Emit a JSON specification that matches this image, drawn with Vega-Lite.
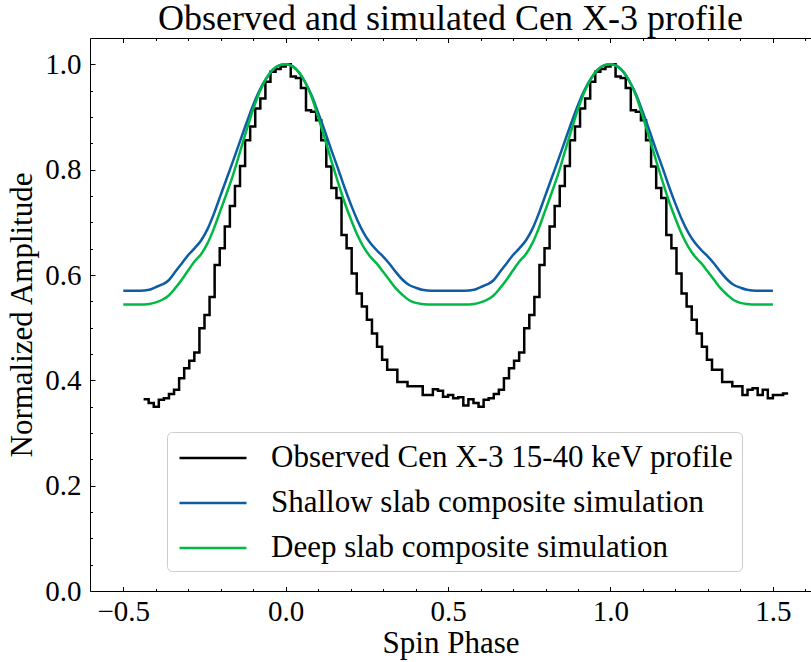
{
  "$schema": "https://vega.github.io/schema/vega-lite/v6.json",
  "width": 721,
  "height": 553,
  "autosize": {"type": "none"},
  "padding": {"left": 90, "top": 38, "right": 0, "bottom": 71},
  "background": "white",
  "title": {"text": "Observed and simulated Cen X-3 profile", "font": "Liberation Serif", "fontSize": 36, "fontWeight": "normal", "color": "black", "anchor": "middle", "frame": "group", "offset": 0},
  "config": {
    "view": {"stroke": "black", "strokeWidth": 1},
    "axis": {"grid": false, "domain": false, "tickColor": "black", "tickWidth": 1, "labelFont": "Liberation Serif", "labelFontSize": 29, "labelColor": "black", "titleFont": "Liberation Serif", "titleFontSize": 31, "titleFontWeight": "normal", "titleColor": "black", "labelOverlap": false}
  },
  "datasets": {
    "obs": [
      {"phase": -0.4375, "amp": 0.364}, {"phase": -0.421875, "amp": 0.357}, {"phase": -0.40625, "amp": 0.350}, {"phase": -0.390625, "amp": 0.363},
      {"phase": -0.375, "amp": 0.366}, {"phase": -0.359375, "amp": 0.374}, {"phase": -0.34375, "amp": 0.382}, {"phase": -0.328125, "amp": 0.404},
      {"phase": -0.3125, "amp": 0.423}, {"phase": -0.296875, "amp": 0.437}, {"phase": -0.28125, "amp": 0.453}, {"phase": -0.265625, "amp": 0.499},
      {"phase": -0.25, "amp": 0.524}, {"phase": -0.234375, "amp": 0.558}, {"phase": -0.21875, "amp": 0.619}, {"phase": -0.203125, "amp": 0.651},
      {"phase": -0.1875, "amp": 0.692}, {"phase": -0.171875, "amp": 0.731}, {"phase": -0.15625, "amp": 0.769}, {"phase": -0.140625, "amp": 0.807},
      {"phase": -0.125, "amp": 0.856}, {"phase": -0.109375, "amp": 0.882}, {"phase": -0.09375, "amp": 0.916}, {"phase": -0.078125, "amp": 0.935},
      {"phase": -0.0625, "amp": 0.967}, {"phase": -0.046875, "amp": 0.986}, {"phase": -0.03125, "amp": 0.991}, {"phase": -0.015625, "amp": 0.996},
      {"phase": 0.0, "amp": 1.0}, {"phase": 0.015625, "amp": 0.977}, {"phase": 0.03125, "amp": 0.974}, {"phase": 0.046875, "amp": 0.955},
      {"phase": 0.0625, "amp": 0.913}, {"phase": 0.078125, "amp": 0.910}, {"phase": 0.09375, "amp": 0.894}, {"phase": 0.109375, "amp": 0.856},
      {"phase": 0.125, "amp": 0.806}, {"phase": 0.140625, "amp": 0.765}, {"phase": 0.15625, "amp": 0.746}, {"phase": 0.171875, "amp": 0.676},
      {"phase": 0.1875, "amp": 0.651}, {"phase": 0.203125, "amp": 0.603}, {"phase": 0.21875, "amp": 0.565}, {"phase": 0.234375, "amp": 0.540},
      {"phase": 0.25, "amp": 0.515}, {"phase": 0.265625, "amp": 0.489}, {"phase": 0.28125, "amp": 0.464}, {"phase": 0.296875, "amp": 0.439},
      {"phase": 0.3125, "amp": 0.420}, {"phase": 0.328125, "amp": 0.420}, {"phase": 0.34375, "amp": 0.397}, {"phase": 0.359375, "amp": 0.397},
      {"phase": 0.375, "amp": 0.389}, {"phase": 0.390625, "amp": 0.389}, {"phase": 0.40625, "amp": 0.389}, {"phase": 0.421875, "amp": 0.372},
      {"phase": 0.4375, "amp": 0.372}, {"phase": 0.453125, "amp": 0.383}, {"phase": 0.46875, "amp": 0.380}, {"phase": 0.484375, "amp": 0.369},
      {"phase": 0.5, "amp": 0.372}, {"phase": 0.515625, "amp": 0.366}, {"phase": 0.53125, "amp": 0.368}, {"phase": 0.546875, "amp": 0.352},
      {"phase": 0.5625, "amp": 0.364}, {"phase": 0.578125, "amp": 0.357}, {"phase": 0.59375, "amp": 0.350}, {"phase": 0.609375, "amp": 0.363},
      {"phase": 0.625, "amp": 0.366}, {"phase": 0.640625, "amp": 0.374}, {"phase": 0.65625, "amp": 0.382}, {"phase": 0.671875, "amp": 0.404},
      {"phase": 0.6875, "amp": 0.423}, {"phase": 0.703125, "amp": 0.437}, {"phase": 0.71875, "amp": 0.453}, {"phase": 0.734375, "amp": 0.499},
      {"phase": 0.75, "amp": 0.524}, {"phase": 0.765625, "amp": 0.558}, {"phase": 0.78125, "amp": 0.619}, {"phase": 0.796875, "amp": 0.651},
      {"phase": 0.8125, "amp": 0.692}, {"phase": 0.828125, "amp": 0.731}, {"phase": 0.84375, "amp": 0.769}, {"phase": 0.859375, "amp": 0.807},
      {"phase": 0.875, "amp": 0.856}, {"phase": 0.890625, "amp": 0.882}, {"phase": 0.90625, "amp": 0.916}, {"phase": 0.921875, "amp": 0.935},
      {"phase": 0.9375, "amp": 0.967}, {"phase": 0.953125, "amp": 0.986}, {"phase": 0.96875, "amp": 0.991}, {"phase": 0.984375, "amp": 0.996},
      {"phase": 1.0, "amp": 1.0}, {"phase": 1.015625, "amp": 0.977}, {"phase": 1.03125, "amp": 0.974}, {"phase": 1.046875, "amp": 0.955},
      {"phase": 1.0625, "amp": 0.913}, {"phase": 1.078125, "amp": 0.910}, {"phase": 1.09375, "amp": 0.894}, {"phase": 1.109375, "amp": 0.856},
      {"phase": 1.125, "amp": 0.806}, {"phase": 1.140625, "amp": 0.765}, {"phase": 1.15625, "amp": 0.746}, {"phase": 1.171875, "amp": 0.676},
      {"phase": 1.1875, "amp": 0.651}, {"phase": 1.203125, "amp": 0.603}, {"phase": 1.21875, "amp": 0.565}, {"phase": 1.234375, "amp": 0.540},
      {"phase": 1.25, "amp": 0.515}, {"phase": 1.265625, "amp": 0.489}, {"phase": 1.28125, "amp": 0.464}, {"phase": 1.296875, "amp": 0.439},
      {"phase": 1.3125, "amp": 0.420}, {"phase": 1.328125, "amp": 0.420}, {"phase": 1.34375, "amp": 0.397}, {"phase": 1.359375, "amp": 0.397},
      {"phase": 1.375, "amp": 0.389}, {"phase": 1.390625, "amp": 0.389}, {"phase": 1.40625, "amp": 0.372}, {"phase": 1.421875, "amp": 0.382},
      {"phase": 1.4375, "amp": 0.385}, {"phase": 1.453125, "amp": 0.372}, {"phase": 1.46875, "amp": 0.382}, {"phase": 1.484375, "amp": 0.366},
      {"phase": 1.5, "amp": 0.372}, {"phase": 1.515625, "amp": 0.372}, {"phase": 1.53125, "amp": 0.375}, {"phase": 1.546875, "amp": 0.375}
    ],
    "shallow": [
      {"phase": -0.5, "amp": 0.570}, {"phase": -0.45, "amp": 0.570}, {"phase": -0.42, "amp": 0.572}, {"phase": -0.40, "amp": 0.577},
      {"phase": -0.38, "amp": 0.582}, {"phase": -0.36, "amp": 0.590}, {"phase": -0.34, "amp": 0.606}, {"phase": -0.32, "amp": 0.622},
      {"phase": -0.30, "amp": 0.638}, {"phase": -0.28, "amp": 0.651}, {"phase": -0.26, "amp": 0.666}, {"phase": -0.24, "amp": 0.688},
      {"phase": -0.22, "amp": 0.718}, {"phase": -0.20, "amp": 0.752}, {"phase": -0.18, "amp": 0.786}, {"phase": -0.16, "amp": 0.820},
      {"phase": -0.14, "amp": 0.855}, {"phase": -0.12, "amp": 0.890}, {"phase": -0.10, "amp": 0.923}, {"phase": -0.08, "amp": 0.951},
      {"phase": -0.06, "amp": 0.973}, {"phase": -0.04, "amp": 0.989}, {"phase": -0.02, "amp": 0.998}, {"phase": 0.0, "amp": 1.0},
      {"phase": 0.02, "amp": 0.997}, {"phase": 0.04, "amp": 0.985}, {"phase": 0.06, "amp": 0.966}, {"phase": 0.08, "amp": 0.941},
      {"phase": 0.10, "amp": 0.908}, {"phase": 0.12, "amp": 0.874}, {"phase": 0.14, "amp": 0.838}, {"phase": 0.16, "amp": 0.804},
      {"phase": 0.18, "amp": 0.768}, {"phase": 0.20, "amp": 0.735}, {"phase": 0.22, "amp": 0.705}, {"phase": 0.24, "amp": 0.680},
      {"phase": 0.26, "amp": 0.661}, {"phase": 0.28, "amp": 0.647}, {"phase": 0.30, "amp": 0.635}, {"phase": 0.32, "amp": 0.621},
      {"phase": 0.34, "amp": 0.605}, {"phase": 0.36, "amp": 0.591}, {"phase": 0.38, "amp": 0.581}, {"phase": 0.40, "amp": 0.576},
      {"phase": 0.42, "amp": 0.572}, {"phase": 0.45, "amp": 0.570}, {"phase": 0.50, "amp": 0.570},
      {"phase": 0.55, "amp": 0.570}, {"phase": 0.58, "amp": 0.572}, {"phase": 0.60, "amp": 0.577},
      {"phase": 0.62, "amp": 0.582}, {"phase": 0.64, "amp": 0.590}, {"phase": 0.66, "amp": 0.606}, {"phase": 0.68, "amp": 0.622},
      {"phase": 0.70, "amp": 0.638}, {"phase": 0.72, "amp": 0.651}, {"phase": 0.74, "amp": 0.666}, {"phase": 0.76, "amp": 0.688},
      {"phase": 0.78, "amp": 0.718}, {"phase": 0.80, "amp": 0.752}, {"phase": 0.82, "amp": 0.786}, {"phase": 0.84, "amp": 0.820},
      {"phase": 0.86, "amp": 0.855}, {"phase": 0.88, "amp": 0.890}, {"phase": 0.90, "amp": 0.923}, {"phase": 0.92, "amp": 0.951},
      {"phase": 0.94, "amp": 0.973}, {"phase": 0.96, "amp": 0.989}, {"phase": 0.98, "amp": 0.998}, {"phase": 1.0, "amp": 1.0},
      {"phase": 1.02, "amp": 0.997}, {"phase": 1.04, "amp": 0.985}, {"phase": 1.06, "amp": 0.966}, {"phase": 1.08, "amp": 0.941},
      {"phase": 1.10, "amp": 0.908}, {"phase": 1.12, "amp": 0.874}, {"phase": 1.14, "amp": 0.838}, {"phase": 1.16, "amp": 0.804},
      {"phase": 1.18, "amp": 0.768}, {"phase": 1.20, "amp": 0.735}, {"phase": 1.22, "amp": 0.705}, {"phase": 1.24, "amp": 0.680},
      {"phase": 1.26, "amp": 0.661}, {"phase": 1.28, "amp": 0.647}, {"phase": 1.30, "amp": 0.635}, {"phase": 1.32, "amp": 0.621},
      {"phase": 1.34, "amp": 0.605}, {"phase": 1.36, "amp": 0.591}, {"phase": 1.38, "amp": 0.581}, {"phase": 1.40, "amp": 0.576},
      {"phase": 1.42, "amp": 0.572}, {"phase": 1.45, "amp": 0.570}, {"phase": 1.50, "amp": 0.570}
    ],
    "deep": [
      {"phase": -0.5, "amp": 0.544}, {"phase": -0.45, "amp": 0.544}, {"phase": -0.42, "amp": 0.545}, {"phase": -0.40, "amp": 0.548},
      {"phase": -0.38, "amp": 0.553}, {"phase": -0.36, "amp": 0.561}, {"phase": -0.34, "amp": 0.575}, {"phase": -0.32, "amp": 0.591},
      {"phase": -0.30, "amp": 0.609}, {"phase": -0.28, "amp": 0.626}, {"phase": -0.26, "amp": 0.640}, {"phase": -0.24, "amp": 0.661},
      {"phase": -0.22, "amp": 0.690}, {"phase": -0.20, "amp": 0.724}, {"phase": -0.18, "amp": 0.758}, {"phase": -0.16, "amp": 0.794},
      {"phase": -0.14, "amp": 0.835}, {"phase": -0.12, "amp": 0.876}, {"phase": -0.10, "amp": 0.915}, {"phase": -0.08, "amp": 0.948},
      {"phase": -0.06, "amp": 0.973}, {"phase": -0.04, "amp": 0.990}, {"phase": -0.02, "amp": 0.998}, {"phase": 0.0, "amp": 1.0},
      {"phase": 0.02, "amp": 0.996}, {"phase": 0.04, "amp": 0.986}, {"phase": 0.06, "amp": 0.966}, {"phase": 0.08, "amp": 0.938},
      {"phase": 0.10, "amp": 0.900}, {"phase": 0.12, "amp": 0.860}, {"phase": 0.14, "amp": 0.818}, {"phase": 0.16, "amp": 0.778},
      {"phase": 0.18, "amp": 0.740}, {"phase": 0.20, "amp": 0.707}, {"phase": 0.22, "amp": 0.677}, {"phase": 0.24, "amp": 0.653},
      {"phase": 0.26, "amp": 0.635}, {"phase": 0.28, "amp": 0.622}, {"phase": 0.30, "amp": 0.606}, {"phase": 0.32, "amp": 0.590},
      {"phase": 0.34, "amp": 0.574}, {"phase": 0.36, "amp": 0.562}, {"phase": 0.38, "amp": 0.552}, {"phase": 0.40, "amp": 0.547},
      {"phase": 0.42, "amp": 0.545}, {"phase": 0.45, "amp": 0.544}, {"phase": 0.50, "amp": 0.544},
      {"phase": 0.55, "amp": 0.544}, {"phase": 0.58, "amp": 0.545}, {"phase": 0.60, "amp": 0.548},
      {"phase": 0.62, "amp": 0.553}, {"phase": 0.64, "amp": 0.561}, {"phase": 0.66, "amp": 0.575}, {"phase": 0.68, "amp": 0.591},
      {"phase": 0.70, "amp": 0.609}, {"phase": 0.72, "amp": 0.626}, {"phase": 0.74, "amp": 0.640}, {"phase": 0.76, "amp": 0.661},
      {"phase": 0.78, "amp": 0.690}, {"phase": 0.80, "amp": 0.724}, {"phase": 0.82, "amp": 0.758}, {"phase": 0.84, "amp": 0.794},
      {"phase": 0.86, "amp": 0.835}, {"phase": 0.88, "amp": 0.876}, {"phase": 0.90, "amp": 0.915}, {"phase": 0.92, "amp": 0.948},
      {"phase": 0.94, "amp": 0.973}, {"phase": 0.96, "amp": 0.990}, {"phase": 0.98, "amp": 0.998}, {"phase": 1.0, "amp": 1.0},
      {"phase": 1.02, "amp": 0.996}, {"phase": 1.04, "amp": 0.986}, {"phase": 1.06, "amp": 0.966}, {"phase": 1.08, "amp": 0.938},
      {"phase": 1.10, "amp": 0.900}, {"phase": 1.12, "amp": 0.860}, {"phase": 1.14, "amp": 0.818}, {"phase": 1.16, "amp": 0.778},
      {"phase": 1.18, "amp": 0.740}, {"phase": 1.20, "amp": 0.707}, {"phase": 1.22, "amp": 0.677}, {"phase": 1.24, "amp": 0.653},
      {"phase": 1.26, "amp": 0.635}, {"phase": 1.28, "amp": 0.622}, {"phase": 1.30, "amp": 0.606}, {"phase": 1.32, "amp": 0.590},
      {"phase": 1.34, "amp": 0.574}, {"phase": 1.36, "amp": 0.562}, {"phase": 1.38, "amp": 0.552}, {"phase": 1.40, "amp": 0.547},
      {"phase": 1.42, "amp": 0.545}, {"phase": 1.45, "amp": 0.544}, {"phase": 1.50, "amp": 0.544}
    ]
  },
  "layer": [
    {
      "data": {"name": "obs"},
      "mark": {"type": "line", "interpolate": "step-after", "strokeWidth": 2.5},
      "encoding": {
        "x": {"field": "phase", "type": "quantitative", "scale": {"domain": [-0.6025, 1.6173], "nice": false, "zero": false},
              "axis": {"orient": "bottom", "values": [-0.5, 0, 0.5, 1, 1.5], "format": ".1f", "tickSize": -4.5, "labelPadding": 11, "title": "Spin Phase", "titlePadding": 2}},
        "y": {"field": "amp", "type": "quantitative", "scale": {"domain": [0, 1.05], "nice": false, "zero": false},
              "axis": {"orient": "left", "values": [0, 0.2, 0.4, 0.6, 0.8, 1.0], "format": ".1f", "tickSize": -5, "labelPadding": 14, "title": "Normalized Amplitude", "titlePadding": 6}},
        "color": {"datum": "Observed Cen X-3 15-40 keV profile", "type": "nominal",
                  "scale": {"domain": ["Observed Cen X-3 15-40 keV profile", "Shallow slab composite simulation", "Deep slab composite simulation"], "range": ["#000000", "#0C5DA5", "#00B945"]},
                  "legend": {"orient": "none", "legendX": 77, "legendY": 394, "title": null, "fillColor": "white", "strokeColor": "#cccccc", "cornerRadius": 5, "padding": 8,
                             "labelFont": "Liberation Serif", "labelFontSize": 31, "labelColor": "black", "labelLimit": 0,
                             "symbolType": "M-2,0H2", "symbolSize": 1122, "symbolStrokeWidth": 2.5, "rowPadding": 12, "labelOffset": 40, "symbolOffset": 20}}
      }
    },
    {
      "data": {"name": "shallow"},
      "mark": {"type": "line", "interpolate": "monotone", "strokeWidth": 2.5},
      "encoding": {
        "x": {"field": "phase", "type": "quantitative",
              "axis": {"orient": "bottom", "values": [-0.5, -0.4, -0.3, -0.2, -0.1, 0, 0.1, 0.2, 0.3, 0.4, 0.5, 0.6, 0.7, 0.8, 0.9, 1.0, 1.1, 1.2, 1.3, 1.4, 1.5, 1.6], "labels": false, "tickSize": -2.5, "title": null}},
        "y": {"field": "amp", "type": "quantitative",
              "axis": {"orient": "left", "values": [0.05, 0.1, 0.15, 0.2, 0.25, 0.3, 0.35, 0.4, 0.45, 0.5, 0.55, 0.6, 0.65, 0.7, 0.75, 0.8, 0.85, 0.9, 0.95, 1.0], "labels": false, "tickSize": -2.5, "title": null}},
        "color": {"datum": "Shallow slab composite simulation", "type": "nominal"}
      }
    },
    {
      "data": {"name": "deep"},
      "mark": {"type": "line", "interpolate": "monotone", "strokeWidth": 2.5},
      "encoding": {
        "x": {"field": "phase", "type": "quantitative",
              "axis": {"orient": "top", "values": [-0.5, 0, 0.5, 1, 1.5], "labels": false, "tickSize": -4.5, "title": null}},
        "y": {"field": "amp", "type": "quantitative", "axis": null},
        "color": {"datum": "Deep slab composite simulation", "type": "nominal"}
      }
    },
    {
      "data": {"name": "deep"},
      "mark": {"type": "line", "interpolate": "monotone", "strokeWidth": 2.5, "opacity": 0},
      "encoding": {
        "x": {"field": "phase", "type": "quantitative",
              "axis": {"orient": "top", "values": [-0.5, -0.4, -0.3, -0.2, -0.1, 0, 0.1, 0.2, 0.3, 0.4, 0.5, 0.6, 0.7, 0.8, 0.9, 1.0, 1.1, 1.2, 1.3, 1.4, 1.5, 1.6], "labels": false, "tickSize": -2.5, "title": null}},
        "y": {"field": "amp", "type": "quantitative", "axis": null}
      }
    }
  ],
  "resolve": {"axis": {"x": "independent", "y": "independent"}}
}
